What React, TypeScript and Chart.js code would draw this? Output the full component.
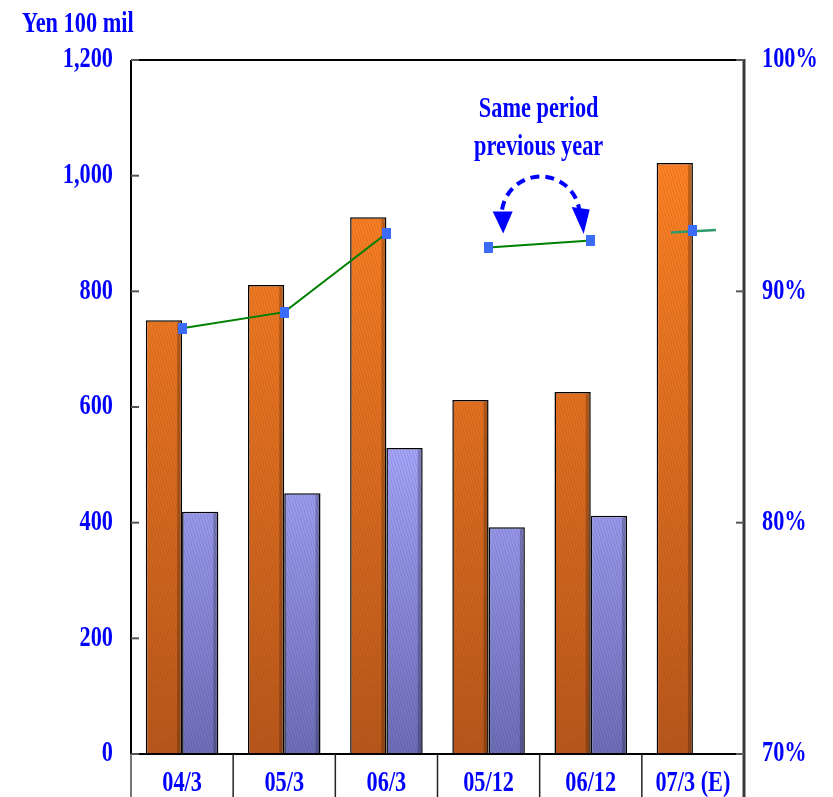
import { useEffect, useRef } from 'react';
import { Chart, registerables } from 'chart.js';

Chart.register(...registerables);

// ---------------- data ----------------
const categories = ['04/3', '05/3', '06/3', '05/12', '06/12', '07/3 (E)'];
const orangeValues = [750, 811, 928, 612, 626, 1022];
const blueValues: (number | null)[] = [419, 451, 529, 392, 412, null];
const ratioValues = [88.4, 89.1, 92.5, 91.9, 92.2, 92.65];
const lineBreakAfter = [2, 4];
const leftTicks = [0, 200, 400, 600, 800, 1000, 1200];
const leftTickLabels = ['0', '200', '400', '600', '800', '1,000', '1,200'];
const rightTicks = [70, 80, 90, 100];
const rightTickLabels = ['70%', '80%', '90%', '100%'];
const unitLabel = 'Yen 100 mil';
const noteLines = ['Same period', 'previous year'];

// ---------------- helpers ----------------
const W = 833;
const H = 797;
const FONT = 'bold 29px "Liberation Serif", "Times New Roman", serif';
const SX = 0.77;
const BLUE_TEXT = '#0000ff';

function drawText(
  ctx: CanvasRenderingContext2D,
  text: string,
  x: number,
  y: number,
  align: CanvasTextAlign,
  baseline: CanvasTextBaseline
) {
  ctx.save();
  ctx.font = FONT;
  ctx.fillStyle = BLUE_TEXT;
  ctx.textAlign = align;
  ctx.textBaseline = baseline;
  ctx.translate(x, y);
  ctx.scale(SX, 1);
  ctx.fillText(text, 0, 0);
  ctx.restore();
}

function makeFill(
  main: CanvasRenderingContext2D,
  y0: number,
  y1: number,
  c0: string,
  c1: string,
  stripe: string
) {
  const c = document.createElement('canvas');
  c.width = W;
  c.height = H;
  const g = c.getContext('2d')!;
  const grad = g.createLinearGradient(0, y0, 0, y1);
  grad.addColorStop(0, c0);
  grad.addColorStop(1, c1);
  g.fillStyle = grad;
  g.fillRect(0, 0, W, H);
  g.strokeStyle = stripe;
  g.lineWidth = 1;
  for (let x = -H; x < W + H; x += 3) {
    g.beginPath();
    g.moveTo(x, 0);
    g.lineTo(x + H * 0.3, H);
    g.stroke();
  }
  return main.createPattern(c, 'no-repeat')!;
}

function makeMarker() {
  const c = document.createElement('canvas');
  c.width = 9;
  c.height = 11;
  const g = c.getContext('2d')!;
  g.fillStyle = '#3a6cf6';
  g.fillRect(0, 0, 9, 11);
  return c;
}

const customPlugin = {
  id: 'custom',
  beforeDatasetDraw(chart: any, args: any) {
    if (args.index !== 2) return;
    const meta = chart.getDatasetMeta(2);
    const p = meta.data[ratioValues.length - 1];
    if (!p) return;
    const ctx = chart.ctx as CanvasRenderingContext2D;
    ctx.save();
    ctx.strokeStyle = '#2e9a6a';
    ctx.lineWidth = 2.5;
    ctx.beginPath();
    ctx.moveTo(p.x - 22, p.y + 2.5);
    ctx.lineTo(p.x + 23, p.y);
    ctx.stroke();
    ctx.restore();
  },
  afterDatasetDraw(chart: any, args: any) {
    if (args.meta.type !== 'bar') return;
    const ctx = chart.ctx as CanvasRenderingContext2D;
    ctx.save();
    ctx.fillStyle = 'rgba(0,0,0,0.22)';
    args.meta.data.forEach((el: any, i: number) => {
      const v = chart.data.datasets[args.index].data[i];
      if (v === null || v === undefined) return;
      const right = el.x + el.width / 2;
      ctx.fillRect(right - 5, el.y + 1.5, 3.5, el.base - el.y - 1.5);
    });
    ctx.restore();
  },
  afterDraw(chart: any) {
    const ctx = chart.ctx as CanvasRenderingContext2D;
    const area = chart.chartArea;
    const xs = chart.scales.x;
    const ys = chart.scales.y;
    const y1s = chart.scales.y1;
    const catW = (xs.right - xs.left) / categories.length;

    ctx.save();
    // frame
    ctx.lineCap = 'butt';
    ctx.strokeStyle = '#000';
    ctx.lineWidth = 2;
    ctx.beginPath();
    ctx.moveTo(area.left, area.top);
    ctx.lineTo(area.right, area.top);
    ctx.moveTo(area.left, area.top);
    ctx.lineTo(area.left, area.bottom);
    ctx.moveTo(area.left, area.bottom);
    ctx.lineTo(area.right, area.bottom);
    ctx.stroke();
    ctx.strokeStyle = '#3a3a3a';
    ctx.lineWidth = 3;
    ctx.beginPath();
    ctx.moveTo(area.right, area.top - 1);
    ctx.lineTo(area.right, H);
    ctx.stroke();
    ctx.strokeStyle = '#777';
    ctx.lineWidth = 2;
    ctx.beginPath();
    ctx.moveTo(area.left, area.bottom);
    ctx.lineTo(area.left, H);
    ctx.stroke();
    // category separators
    ctx.strokeStyle = '#222';
    ctx.lineWidth = 1.5;
    for (let i = 1; i < categories.length; i++) {
      const x = xs.getPixelForValue(i) - catW / 2;
      ctx.beginPath();
      ctx.moveTo(x, area.bottom);
      ctx.lineTo(x, H);
      ctx.stroke();
    }
    // inner tick marks
    ctx.strokeStyle = '#555';
    ctx.lineWidth = 2;
    leftTicks.forEach((t) => {
      const y = ys.getPixelForValue(t);
      ctx.beginPath();
      ctx.moveTo(area.left, y);
      ctx.lineTo(area.left + 8, y);
      ctx.stroke();
    });
    rightTicks.forEach((t) => {
      const y = y1s.getPixelForValue(t);
      ctx.beginPath();
      ctx.moveTo(area.right - 8, y);
      ctx.lineTo(area.right, y);
      ctx.stroke();
    });
    ctx.restore();

    // tick labels
    leftTicks.forEach((t, i) => {
      drawText(ctx, leftTickLabels[i], area.left - 18, ys.getPixelForValue(t), 'right', 'middle');
    });
    rightTicks.forEach((t, i) => {
      drawText(ctx, rightTickLabels[i], area.right + 18, y1s.getPixelForValue(t), 'left', 'middle');
    });
    categories.forEach((c, i) => {
      drawText(ctx, c, xs.getPixelForValue(i), area.bottom + 37, 'center', 'alphabetic');
    });
    drawText(ctx, unitLabel, 22, 32, 'left', 'alphabetic');

    // annotation
    const cx = (xs.getPixelForValue(3) + xs.getPixelForValue(4)) / 2 + 1;
    drawText(ctx, noteLines[0], cx - 2, 117, 'center', 'alphabetic');
    drawText(ctx, noteLines[1], cx - 2, 155, 'center', 'alphabetic');

    const cy = 215.5;
    const r = 39;
    ctx.save();
    ctx.strokeStyle = '#0000ff';
    ctx.lineWidth = 4;
    ctx.setLineDash([9, 6]);
    ctx.beginPath();
    ctx.arc(cx, cy, r, Math.PI + 0.15, 2 * Math.PI - 0.15, false);
    ctx.stroke();
    ctx.setLineDash([]);
    ctx.fillStyle = '#0000ff';
    ctx.beginPath();
    ctx.moveTo(cx - 48, 211.5);
    ctx.lineTo(cx - 28, 211.5);
    ctx.lineTo(cx - 37.5, 233.5);
    ctx.closePath();
    ctx.fill();
    ctx.beginPath();
    ctx.moveTo(cx + 31, 207);
    ctx.lineTo(cx + 49, 209.5);
    ctx.lineTo(cx + 43, 234);
    ctx.closePath();
    ctx.fill();
    ctx.restore();
  },
};

export default function App() {
  const ref = useRef<HTMLCanvasElement>(null);

  useEffect(() => {
    const canvas = ref.current!;
    const ctx = canvas.getContext('2d')!;
    const orangeFill = makeFill(ctx, 160, 754, '#ff8426', '#b8581c', 'rgba(120,40,0,0.18)');
    const blueFill = makeFill(ctx, 430, 754, '#aaaaff', '#6e6eb8', 'rgba(30,30,90,0.16)');
    const marker = makeMarker();

    const chart = new Chart(canvas, {
      type: 'bar',
      data: {
        labels: categories,
        datasets: [
          {
            type: 'bar',
            label: 'A',
            data: orangeValues,
            backgroundColor: orangeFill as any,
            borderColor: '#000',
            borderWidth: 1.5,
            yAxisID: 'y',
            order: 1,
            categoryPercentage: 0.71,
            barPercentage: 1.0,
          },
          {
            type: 'bar',
            label: 'B',
            data: blueValues,
            backgroundColor: blueFill as any,
            borderColor: '#000',
            borderWidth: 1.5,
            yAxisID: 'y',
            order: 2,
            categoryPercentage: 0.71,
            barPercentage: 1.0,
          },
          {
            type: 'line',
            label: 'C',
            data: ratioValues,
            borderColor: '#008000',
            borderWidth: 2,
            pointStyle: marker as any,
            pointRadius: 5,
            yAxisID: 'y1',
            order: 0,
            segment: {
              borderColor: (c: any) =>
                lineBreakAfter.includes(c.p0DataIndex) ? 'rgba(0,0,0,0)' : '#008000',
            },
          } as any,
        ],
      },
      options: {
        responsive: false,
        animation: false,
        devicePixelRatio: 1,
        layout: { padding: { left: 131, right: 89, top: 60, bottom: 43 } },
        plugins: { legend: { display: false }, tooltip: { enabled: false } },
        scales: {
          x: { type: 'category', display: false, offset: true },
          y: { type: 'linear', display: false, min: 0, max: 1200 },
          y1: { type: 'linear', display: false, position: 'right', min: 70, max: 100 },
        },
      },
      plugins: [customPlugin],
    });
    return () => chart.destroy();
  }, []);

  return (
    <div style={{ position: 'absolute', left: 0, top: 0, width: W, height: H, background: '#fff' }}>
      <canvas ref={ref} width={W} height={H} style={{ display: 'block', width: W, height: H }} />
    </div>
  );
}
